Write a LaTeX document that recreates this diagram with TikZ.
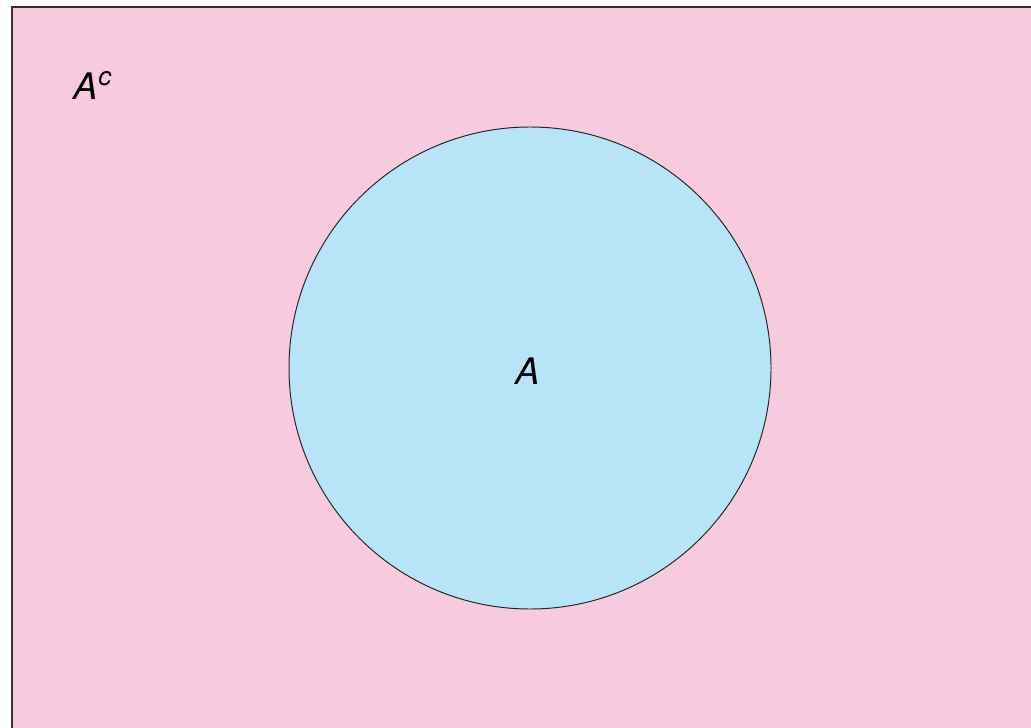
\documentclass[tikz,border=0pt]{standalone}
\usepackage{fontspec}
\setmainfont{TeX Gyre Heros}
\usepackage{tikz}
\definecolor{setpink}{RGB}{247,202,222}
\definecolor{setblue}{RGB}{183,229,247}

\begin{document}
\begin{tikzpicture}[x=0.025cm,y=-0.025cm,
  lbl/.style={font=\fontsize{26}{30}\selectfont\itshape, inner sep=0pt}]
  \useasboundingbox (0,0) rectangle (1031,728);
  \clip (0,0) rectangle (1031,728);
  \draw[fill=setpink, line width=0.9pt, draw=black!80] (12,7) rectangle (1045,745);
  \draw[fill=setblue, line width=0.7pt, draw=black!85] (530,368) circle (241);
  \node[lbl, anchor=base] (setA) at (528,384) {A};
  \node[lbl, anchor=base west] (compA) at (73,100)
    {A\kern0.5pt\raisebox{10pt}{\fontsize{18.5}{20}\selectfont c}};
\end{tikzpicture}
\end{document}
